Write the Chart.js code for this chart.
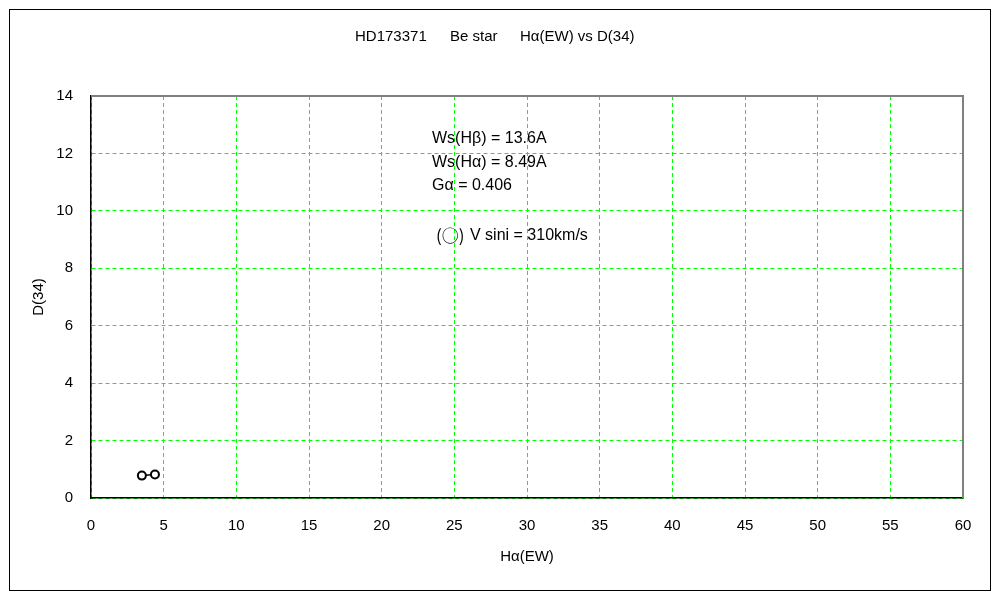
<!DOCTYPE html>
<html>
<head>
<meta charset="utf-8">
<script src="https://cdn.jsdelivr.net/npm/chart.js@4"></script>
<style>
  html, body { margin: 0; padding: 0; background: #fff; }
  #wrap { width: 1000px; height: 600px; }
</style>
</head>
<body>
<div id="wrap"><canvas id="hdChart"></canvas></div>
<script>
// data
const haEW = [3.5, 4.4];
const d34 = [0.78, 0.82];
const xTicks = [0, 5, 10, 15, 20, 25, 30, 35, 40, 45, 50, 55, 60];
const yTicks = [0, 2, 4, 6, 8, 10, 12, 14];

const titleParts = ['HD173371', 'Be star', 'H\u03B1(EW) vs D(34)'];
const noteLines = [
  'Ws(H\u03B2) = 13.6A',
  'Ws(H\u03B1) = 8.49A',
  'G\u03B1 = 0.406'
];
const vsiniMark = '(\u25CB)';
const vsiniNote = 'V sini = 310km/s';

const FONT = '"Liberation Sans", Arial, sans-serif';
const CJK = '"Noto Sans CJK JP", sans-serif';

// frame, title, notes and gray top/right border
const decorations = {
  id: 'decorations',
  afterDraw(chart) {
    const ctx = chart.ctx;
    const a = chart.chartArea;
    ctx.save();
    // outer box
    ctx.strokeStyle = '#000';
    ctx.lineWidth = 1;
    ctx.strokeRect(9.5, 9.5, 981, 581);
    // top and right edges of the plot are gray
    ctx.strokeStyle = '#808080';
    ctx.lineWidth = 2;
    ctx.beginPath();
    ctx.moveTo(a.left, a.top);
    ctx.lineTo(a.right, a.top);
    ctx.lineTo(a.right, a.bottom);
    ctx.stroke();
    // title, three pieces spaced like the original
    ctx.fillStyle = '#000';
    ctx.font = '15px ' + FONT;
    ctx.textAlign = 'left';
    ctx.textBaseline = 'middle';
    [355, 450, 520].forEach((x, i) => ctx.fillText(titleParts[i], x, 37));
    // notes
    ctx.font = '16px ' + FONT;
    noteLines.forEach((t, i) => ctx.fillText(t, 432, 139 + i * 23.5));
    ctx.font = '17px ' + CJK;
    ctx.fillText(vsiniMark, 436, 236);
    ctx.font = '16px ' + FONT;
    ctx.fillText(vsiniNote, 470, 236);
    ctx.restore();
  }
};

const ctx = document.getElementById('hdChart').getContext('2d');

new Chart(ctx, {
  type: 'scatter',
  data: {
    datasets: [{
      data: haEW.map((x, i) => ({ x: x, y: d34[i] })),
      showLine: true,
      borderColor: '#000',
      borderWidth: 1.5,
      pointStyle: 'circle',
      pointRadius: 4,
      pointBorderWidth: 2,
      pointBorderColor: '#000',
      pointBackgroundColor: '#fff'
    }]
  },
  options: {
    responsive: true,
    maintainAspectRatio: false,
    animation: false,
    layout: { padding: { top: 96, right: 37, left: 0, bottom: 0 } },
    plugins: {
      legend: { display: false },
      tooltip: { enabled: false }
    },
    scales: {
      x: {
        type: 'linear',
        min: 0,
        max: 60,
        afterFit(scale) { scale.height = 102; },
        afterBuildTicks(scale) { scale.ticks = xTicks.map(v => ({ value: v })); },
        grid: { color: '#00ff00', lineWidth: 1, drawTicks: false },
        border: { color: '#000', width: 1.5, dash: [4, 3] },
        ticks: { color: '#000', padding: 19, font: { family: FONT, size: 15 } },
        title: {
          display: true,
          text: 'H\u03B1(EW)',
          color: '#000',
          font: { family: FONT, size: 15 },
          padding: { top: 0, bottom: 34 }
        }
      },
      y: {
        type: 'linear',
        min: 0,
        max: 14,
        afterFit(scale) { scale.width = 91; },
        afterBuildTicks(scale) { scale.ticks = yTicks.map(v => ({ value: v })); },
        grid: { color: '#00ff00', lineWidth: 1, drawTicks: false },
        border: { color: '#000', width: 1.5, dash: [4, 3] },
        ticks: { color: '#000', padding: 18, font: { family: FONT, size: 15 } },
        title: {
          display: true,
          text: 'D(34)',
          color: '#000',
          font: { family: FONT, size: 15 },
          padding: { top: 30, bottom: 0 }
        }
      }
    }
  },
  plugins: [decorations]
});
</script>
</body>
</html>
